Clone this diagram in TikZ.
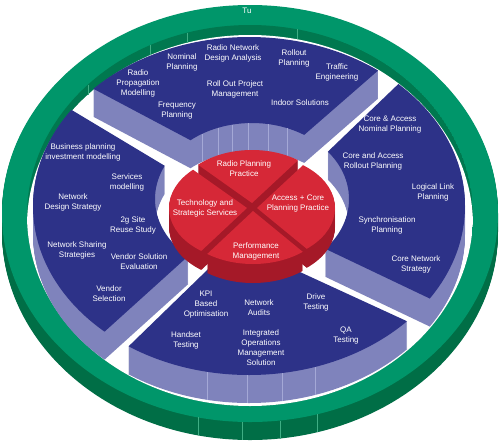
\documentclass[tikz,border=0pt]{standalone}
\usepackage{fontspec}
\setmainfont{Liberation Sans}
\definecolor{gtop}{HTML}{00966A}
\definecolor{gside}{HTML}{006E46}
\definecolor{gwall}{HTML}{00784F}
\definecolor{gline}{HTML}{3FAE84}
\definecolor{btop}{HTML}{2D3288}
\definecolor{bside}{HTML}{7F83BC}
\definecolor{bline}{HTML}{A4A8D6}
\definecolor{rtop}{HTML}{D62837}
\definecolor{rside}{HTML}{A51928}
\newcommand\bannulus{(249,206) ellipse[x radius=216,y radius=169] (252,199) ellipse[x radius=97,y radius=76]}
\newcommand\bseg[1]{%
  \foreach \k in {28,27,...,1}{\begin{scope}[shift={(0,\k)}]\clip #1; \fill[bside,even odd rule] \bannulus;\end{scope}}%
  \begin{scope}\clip #1; \fill[btop,even odd rule] \bannulus;\end{scope}}
\newcommand\redpiece[3]{%
  \foreach \k in {19,18,...,1}{\begin{scope}[shift={(#2,#3+\k)}]\clip #1; \fill[rside] (252,207) ellipse[x radius=78,y radius=53];\end{scope}}%
  \begin{scope}[shift={(#2,#3)}]\clip #1; \fill[rtop] (252,207) ellipse[x radius=78,y radius=53];\end{scope}}
\begin{document}
\begin{tikzpicture}[x=1pt,y=-1pt,
  lbl/.style={text=white,align=center,font=\fontsize{8}{10}\selectfont,inner sep=0pt}]
\useasboundingbox (0,0) rectangle (500,445);
\fill[white] (0,0) rectangle (500,445);
% green ring
\foreach \k in {18,17,...,1}{\fill[gside] (250,213.5+\k) ellipse[x radius=248,y radius=208.5];}
\fill[gtop] (250,213.5) ellipse[x radius=248,y radius=208.5];
\begin{scope}
  \clip (250,215.5) ellipse[x radius=223,y radius=190.5];
  \fill[gwall] (250,215.5) ellipse[x radius=223,y radius=190.5];
  \fill[white] (250,225.5) ellipse[x radius=223,y radius=190.5];
\end{scope}
\foreach \xx/\yy in {198/417.4,242/421.5,280/420.5,317/414.3}{\draw[gline,line width=0.5pt] (\xx,\yy) -- (\xx,\yy+18);}
\foreach \xx/\yy in {88/84.6,150/45.2,187/32.8,297/29.3}{\draw[gline,line width=0.5pt] (\xx,\yy) -- (\xx,\yy+10);}
\node[lbl] (tu) at (247,11) {Tu};
% blue segments
\bseg{(257.4,175.7) -- (-110,-19) -- (-110,-250) -- (650,-250) -- (583,-108) -- cycle}
\bseg{(238.9,210.3) -- (-100,7) -- (-100,516.4) -- cycle}
\bseg{(259.4,217.4) -- (600,-109.6) -- (600,379.6) -- cycle}
\bseg{(235.6,242.4) -- (600,410) -- (600,650) -- (-100,650) -- (-100,568.3) -- cycle}
\foreach \xx in {207,247,282,315}{\pgfmathsetmacro\yy{206+169*sqrt(1-((\xx-249)/216)^2)}\draw[bline,line width=0.5pt] (\xx,\yy) -- (\xx,\yy+28);}
\foreach \xx in {202,218,232,248,268,287}{\pgfmathsetmacro\yy{199-76*sqrt(1-((\xx-252)/97)^2)}\draw[bline,line width=0.5pt] (\xx,\yy) -- (\xx,\yy+28);}
% red disc
\redpiece{(252,207) -- (8,34) -- (252,-300) -- (452,21) -- cycle}{0}{-4}
\redpiece{(252,207) -- (8,34) -- (-300,206) -- (40,406) -- cycle}{-5}{1}
\redpiece{(252,207) -- (452,21) -- (800,206) -- (480,394) -- cycle}{5}{1}
\redpiece{(252,207) -- (480,394) -- (252,700) -- (40,406) -- cycle}{1}{4}
% top segment texts
\node[lbl] (t1) at (182,62) {Nominal\\Planning};
\node[lbl] (t2) at (233,53) {Radio Network\\Design Analysis};
\node[lbl] (t3) at (294,58) {Rollout\\Planning};
\node[lbl] (t4) at (337,72) {Traffic\\Engineering};
\node[lbl] (t5) at (138,83) {Radio\\Propagation\\Modelling};
\node[lbl] (t6) at (235,89) {Roll Out Project\\Management};
\node[lbl] (t7) at (177,111) {Frequency\\Planning};
\node[lbl] (t8) at (300,103) {Indoor Solutions};
% left segment texts
\node[lbl] (l1) at (83,152) {Business planning\\investment modelling};
\node[lbl] (l2) at (127,182) {Services\\modelling};
\node[lbl] (l3) at (73,202) {Network\\Design Strategy};
\node[lbl] (l4) at (133,225) {2g Site\\Reuse Study};
\node[lbl] (l5) at (77,250) {Network Sharing\\Strategies};
\node[lbl] (l6) at (139,262) {Vendor Solution\\Evaluation};
\node[lbl] (l7) at (109,294) {Vendor\\Selection};
% right segment texts
\node[lbl] (r1) at (390,125) {Core \& Access\\Nominal Planning};
\node[lbl] (r2) at (373,161) {Core and Access\\Rollout Planning};
\node[lbl] (r3) at (433,192) {Logical Link\\Planning};
\node[lbl] (r4) at (387,225) {Synchronisation\\Planning};
\node[lbl] (r5) at (416,264) {Core Network\\Strategy};
% bottom segment texts
\node[lbl] (b1) at (206,305) {KPI\\Based\\Optimisation};
\node[lbl] (b2) at (259,308) {Network\\Audits};
\node[lbl] (b3) at (316,302) {Drive\\Testing};
\node[lbl] (b4) at (186,340) {Handset\\Testing};
\node[lbl] (b5) at (261,348) {Integrated\\Operations\\Management\\Solution};
\node[lbl] (b6) at (346,336) {QA\\Testing};
% red disc texts
\node[lbl] (c1) at (244,169) {Radio Planning\\Practice};
\node[lbl] (c2) at (205,208) {Technology and\\Strategic Services};
\node[lbl] (c3) at (298,204) {Access + Core\\Planning Practice};
\node[lbl] (c4) at (256,251) {Performance\\Management};
\end{tikzpicture}
\end{document}
